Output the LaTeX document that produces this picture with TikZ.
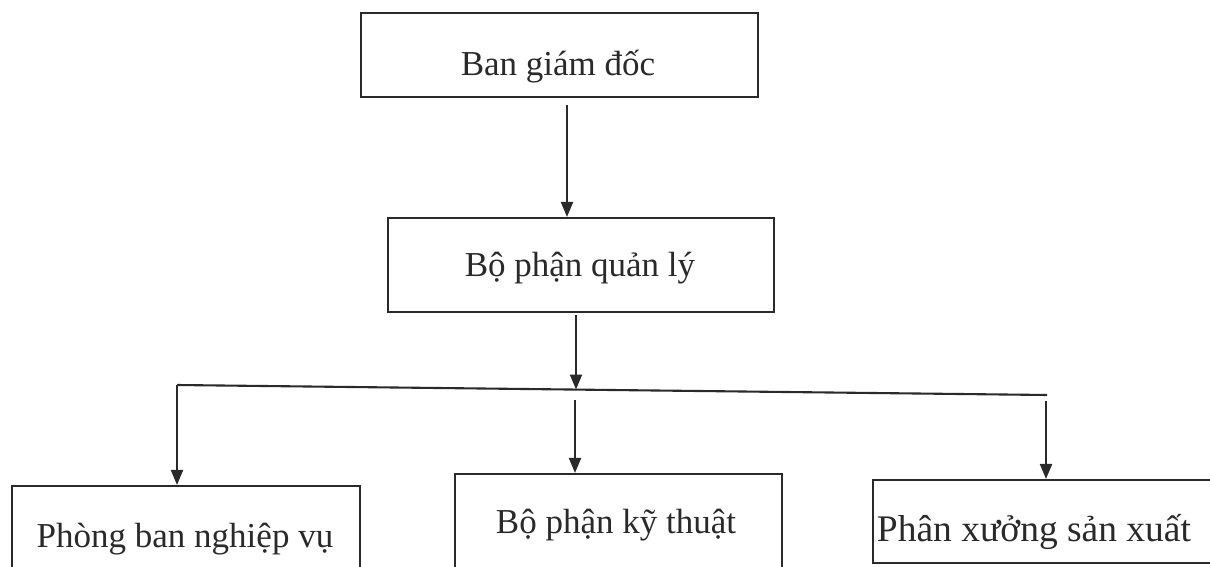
\documentclass[tikz,border=0pt]{standalone}
\usepackage{fontspec}
\setmainfont{Liberation Serif}
\usetikzlibrary{arrows.meta}
\definecolor{ink}{HTML}{2A2A2A}
\tikzset{
  unitbox/.style={draw=ink, line width=2.1pt, inner sep=0pt},
  label text/.style={anchor=base, inner sep=0pt, text=ink, font=\fontsize{35}{40}\selectfont},
  link/.style={draw=ink, line width=2.1pt},
  flow/.style={link, -{Triangle[length=15pt,width=12pt]}},
}
\begin{document}
\begin{tikzpicture}[x=1pt, y=-1pt]
  \useasboundingbox (0,0) rectangle (1210,567);
  \fill[white] (0,0) rectangle (1210,567);
  \clip (0,0) rectangle (1210,567);

  % boxes
  \node[unitbox, minimum width=397pt, minimum height=84pt]  (bgd) at (559.5,55) {};
  \node[unitbox, minimum width=386pt, minimum height=94pt]  (bql) at (581,265) {};
  \node[unitbox, minimum width=348pt, minimum height=124pt] (pbn) at (186,548) {};
  \node[unitbox, minimum width=327pt, minimum height=136pt] (bkt) at (618.5,542) {};
  \node[unitbox, minimum width=357pt, minimum height=83pt]  (pxs) at (1051.5,521.5) {};

  % labels
  \node[label text] (tbgd) at (558,76)  {Ban giám đốc};
  \node[label text] (tbql) at (580,276) {Bộ phận quản lý};
  \node[label text] (tpbn) at (185,547) {Phòng ban nghiệp vụ};
  \node[label text] (tbkt) at (616,533) {Bộ phận kỹ thuật};
  \node[label text, font=\fontsize{37.5}{42}\selectfont] (tpxs) at (1034,541) {Phân xưởng sản xuất};

  % distribution bus
  \coordinate (busL) at (177,385);
  \coordinate (busR) at (1047,395);
  \coordinate (busM) at (576,389.5);
  \coordinate (dropM) at (575,400);
  \coordinate (dropR) at (1046,401);
  \coordinate (topOut) at ([xshift=7.5pt]bgd.south);
  \coordinate (midOut) at ([xshift=-5pt]bql.south);

  % connectors
  \draw[flow, shorten <=7pt] (topOut) -- (topOut |- bql.north);
  \draw[flow, shorten <=2pt] (midOut) -- (busM);
  \draw[link] (busL) -- (busR);
  \draw[flow] (busL) -- (busL |- pbn.north);
  \draw[flow] (dropM) -- (dropM |- bkt.north);
  \draw[flow] (dropR) -- (dropR |- pxs.north);
\end{tikzpicture}
\end{document}
